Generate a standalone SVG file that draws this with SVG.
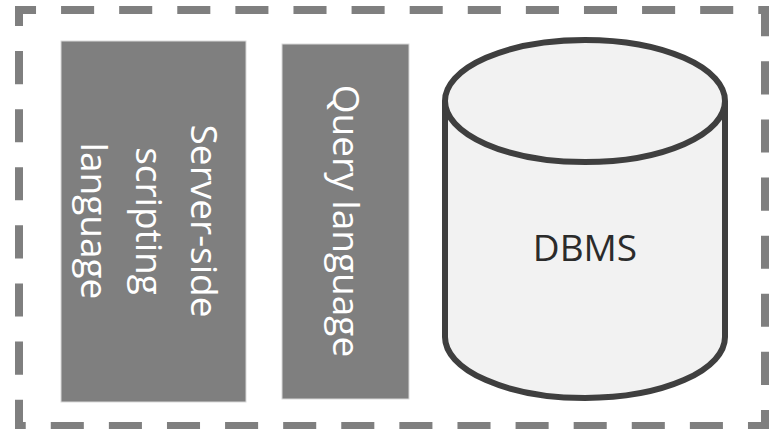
<svg xmlns="http://www.w3.org/2000/svg" width="776" height="429" viewBox="0 0 776 429">
  <style>
    .frame { fill: none; stroke: #7f7f7f; stroke-width: 8; stroke-dasharray: 33 25; stroke-dashoffset: 16; }
    .block { fill: #7f7f7f; stroke: #d9d9d9; stroke-width: 1; }
    .vlabel { font-family: "Open Sans", "Noto Sans", sans-serif; font-size: 37px; fill: #ffffff; text-anchor: middle; }
    .db { fill: #f2f2f2; stroke: #3f3f3f; stroke-width: 6; }
    .dblabel { font-family: "Open Sans", "Noto Sans", sans-serif; font-size: 37px; fill: #2b2b2b; text-anchor: middle; }
  </style>

  <!-- dashed container -->
  <path class="frame" pathLength="2320" d="M19 10 H765 V426 H19 Z"/>

  <g id="server-side">
    <rect class="block" x="61" y="41" width="185" height="361"/>
    <g transform="translate(153.5 221) rotate(90)">
      <text class="vlabel" x="0" y="-37">Server-side</text>
      <text class="vlabel" x="0" y="18">scripting</text>
      <text class="vlabel" x="0" y="73">language</text>
    </g>
  </g>

  <g id="query">
    <rect class="block" x="282" y="44" width="127" height="355"/>
    <text class="vlabel" transform="translate(345.5 221) rotate(90)" x="0" y="13">Query language</text>
  </g>

  <g id="dbms">
    <path class="db" d="M445 101 V337 A140 61 0 0 0 725 337 V101"/>
    <ellipse class="db" cx="585" cy="101" rx="140" ry="61"/>
    <text class="dblabel" x="585" y="261">DBMS</text>
  </g>
</svg>
